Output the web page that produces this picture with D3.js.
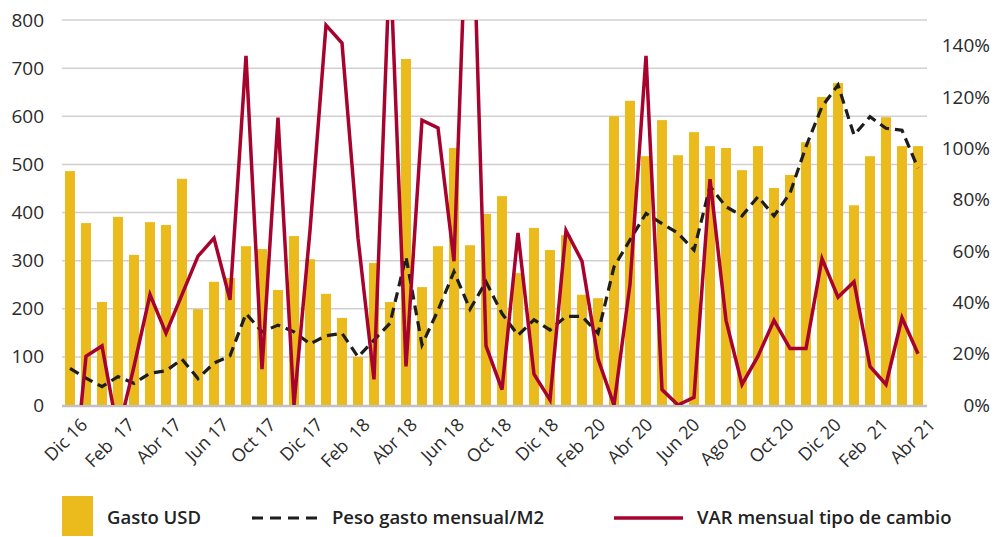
<!DOCTYPE html>
<html>
<head>
<meta charset="utf-8">
<script src="https://cdn.jsdelivr.net/npm/d3@7"></script>
<style>
  body { margin: 0; background: #fff; }
  svg { display: block; }
</style>
</head>
<body>
<div id="chart"></div>
<script>
// Gasto USD (barras, eje izquierdo)
const gastoUSD = [486, 378, 214, 391, 312, 380, 374, 470, 199, 256,
                  264, 330, 324, 239, 351, 303, 231, 181, 100, 295,
                  214, 719, 245, 330, 534, 332, 397, 434, 274, 368,
                  322, 353, 229, 222, 600, 632, 517, 592, 519, 567,
                  538, 534, 488, 538, 451, 478, 546, 640, 669, 415,
                  517, 598, 538, 538];

// Peso gasto mensual/M2 (linea punteada, eje izquierdo)
const pesoM2 = [76, 56, 38, 59, 45, 66, 71, 95, 55, 87,
                102, 190, 152, 166, 152, 127, 144, 149, 100, 135,
                170, 308, 125, 197, 277, 199, 256, 190, 145, 177,
                156, 184, 184, 149, 287, 343, 398, 377, 357, 322,
                454, 412, 393, 433, 393, 440, 537, 620, 665, 561,
                599, 575, 571, 492];

// VAR mensual tipo de cambio (%, eje derecho)
const varTipoCambio = [-45, 19, 23, -11, 15, 43, 28, 43, 58, 65,
                       41, 136, 14, 112, 0, 68, 148, 141, 65, 10,
                       175, 15, 111, 108, 56, 230, 23, 6, 67, 12,
                       2, 68, 56, 18, 0, 47, 136, 6, 0, 3,
                       88, 33, 8, 19, 33, 22, 22, 57, 42, 48,
                       15, 8, 34, 20];

const periodos = d3.range(gastoUSD.length);

const etiquetasX = ["Dic 16", "Feb  17", "Abr 17", "Jun 17", "Oct 17", "Dic 17",
                    "Feb  18", "Abr 18", "Jun 18", "Oct 18", "Dic 18", "Feb  20",
                    "Abr 20", "Jun 20", "Ago 20", "Oct 20", "Dic 20", "Feb  21", "Abr 21"];

const ticksIzq = [0, 100, 200, 300, 400, 500, 600, 700, 800];
const ticksDer = [0, 20, 40, 60, 80, 100, 120, 140];

const width = 995, height = 537;
const margin = {top: 20, left: 62, right: 69, bottom: 132};
const plotW = width - margin.left - margin.right;
const plotH = height - margin.top - margin.bottom;

const colGold = "#ebbb1e";
const colRed = "#a6032f";
const colDash = "#1d1d1b";
const fontTicks = "'Open Sans', 'Noto Sans', sans-serif";

let svg = d3.select("#chart")
    .append("svg")
    .attr("width", width)
    .attr("height", height);

let x = d3.scaleBand()
    .domain(periodos)
    .range([margin.left, margin.left + plotW])
    .paddingInner(0.375)
    .paddingOuter(0.1875);

let yIzq = d3.scaleLinear()
    .domain([0, 800])
    .range([margin.top + plotH, margin.top]);

let yDer = d3.scaleLinear()
    .domain([0, 150])
    .range([margin.top + plotH, margin.top]);

// grid lines
svg.append("g").selectAll("line")
    .data(ticksIzq.filter(d => d > 0))
    .enter()
    .append("line")
    .attr("x1", margin.left)
    .attr("x2", margin.left + plotW + 1)
    .attr("y1", d => yIzq(d))
    .attr("y2", d => yIzq(d))
    .attr("stroke", "#d3cfcf")
    .attr("stroke-width", 1.5);

// bars
svg.append("g").selectAll("rect")
    .data(gastoUSD)
    .enter()
    .append("rect")
    .attr("x", (d, i) => x(i))
    .attr("y", d => yIzq(d))
    .attr("width", x.bandwidth())
    .attr("height", d => yIzq(0) - yIzq(d))
    .attr("fill", colGold);

// base line
svg.append("line")
    .attr("x1", margin.left)
    .attr("x2", margin.left + plotW + 1)
    .attr("y1", yIzq(0) + 1)
    .attr("y2", yIzq(0) + 1)
    .attr("stroke", "#c4c0c0")
    .attr("stroke-width", 2.5);

// clip for lines
svg.append("clipPath")
    .attr("id", "plotClip")
    .append("rect")
    .attr("x", margin.left)
    .attr("y", margin.top)
    .attr("width", plotW)
    .attr("height", plotH);

let lineIzq = d3.line()
    .x((d, i) => x(i) + x.bandwidth() / 2)
    .y(d => yIzq(d));

let lineDer = d3.line()
    .x((d, i) => x(i) + x.bandwidth() / 2)
    .y(d => yDer(d));

svg.append("path")
    .datum(pesoM2)
    .attr("clip-path", "url(#plotClip)")
    .attr("d", lineIzq)
    .attr("fill", "none")
    .attr("stroke", colDash)
    .attr("stroke-width", 3.2)
    .attr("stroke-dasharray", "10,6");

svg.append("path")
    .datum(varTipoCambio)
    .attr("clip-path", "url(#plotClip)")
    .attr("d", lineDer)
    .attr("fill", "none")
    .attr("stroke", colRed)
    .attr("stroke-width", 3.5)
    .attr("stroke-linejoin", "miter");

// left axis
let axisIzq = d3.axisLeft(yIzq).tickValues(ticksIzq).tickSize(0).tickPadding(0);
let gIzq = svg.append("g")
    .attr("transform", `translate(${margin.left - 18}, 0)`)
    .call(axisIzq);
gIzq.select(".domain").remove();
gIzq.selectAll("text")
    .attr("font-family", fontTicks)
    .attr("font-size", "19px")
    .attr("fill", "#2b2b2b");

// right axis
let axisDer = d3.axisRight(yDer).tickValues(ticksDer).tickSize(0)
    .tickFormat(d => d + "%");
let gDer = svg.append("g")
    .attr("transform", `translate(990, 0)`)
    .call(axisDer);
gDer.select(".domain").remove();
gDer.selectAll("text")
    .attr("x", 0)
    .attr("text-anchor", "end")
    .attr("font-family", fontTicks)
    .attr("font-size", "19px")
    .attr("fill", "#2b2b2b");

// category labels
let xEtiq = d3.scalePoint()
    .domain(etiquetasX)
    .range([x(0) + x.bandwidth() / 2, x(periodos.length - 1) + x.bandwidth() / 2]);

let axisX = d3.axisBottom(xEtiq).tickSize(0).tickPadding(0);
let gX = svg.append("g")
    .attr("transform", `translate(0, ${yIzq(0) + 12})`)
    .call(axisX);
gX.select(".domain").remove();
gX.selectAll("text")
    .attr("text-anchor", "end")
    .attr("dy", "0.7em")
    .attr("transform", "translate(9, 0) rotate(-45)")
    .attr("font-family", fontTicks)
    .attr("font-size", "18px")
    .attr("fill", "#2b2b2b")
    .style("white-space", "pre");

// legend
let leg = svg.append("g").attr("font-family", "'Open Sans', sans-serif")
    .attr("font-size", "18.5px").attr("font-weight", 600).attr("fill", "#222");

leg.append("rect")
    .attr("x", 62).attr("y", 496).attr("width", 31).attr("height", 40)
    .attr("fill", colGold);
leg.append("text").attr("x", 107).attr("y", 518).attr("dy", "0.35em").text("Gasto USD");

leg.append("line")
    .attr("x1", 252).attr("x2", 318).attr("y1", 518).attr("y2", 518)
    .attr("stroke", colDash).attr("stroke-width", 3.2).attr("stroke-dasharray", "11,7");
leg.append("text").attr("x", 332).attr("y", 518).attr("dy", "0.35em").text("Peso gasto mensual/M2");

leg.append("line")
    .attr("x1", 614).attr("x2", 683).attr("y1", 518).attr("y2", 518)
    .attr("stroke", colRed).attr("stroke-width", 3.5);
leg.append("text").attr("x", 697).attr("y", 518).attr("dy", "0.35em").text("VAR mensual tipo de cambio");
</script>
</body>
</html>
